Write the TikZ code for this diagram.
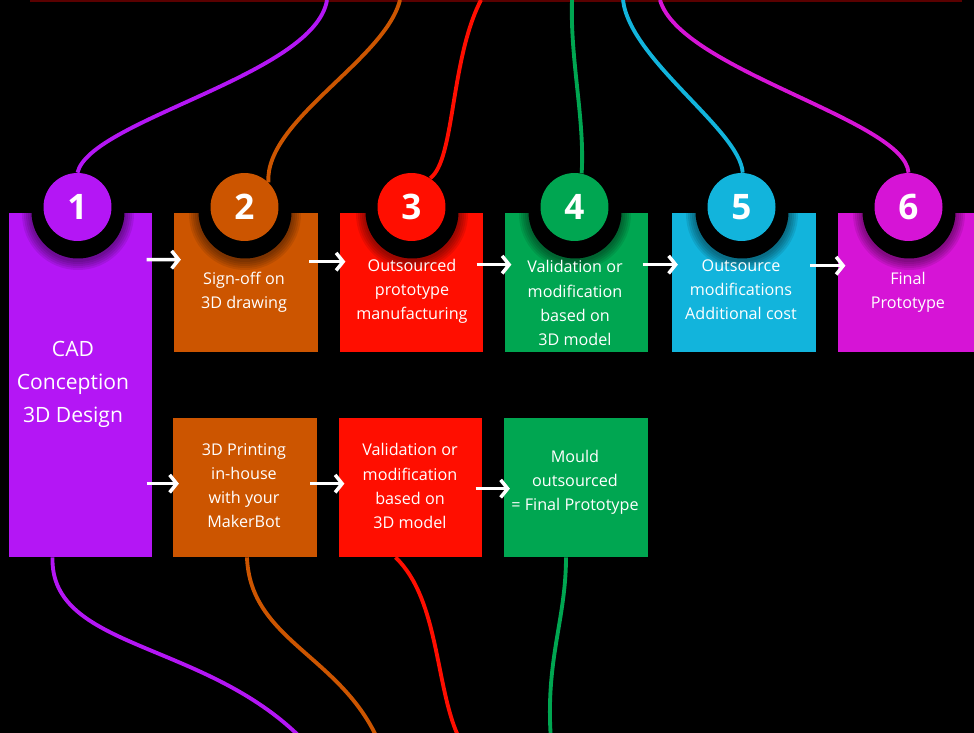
\documentclass[tikz,border=0pt]{standalone}
\usepackage{fontspec}
\setmainfont{Open Sans}
\usetikzlibrary{arrows.meta,calc}
\definecolor{cadpurple}{RGB}{180,22,245}
\definecolor{signorange}{RGB}{204,85,0}
\definecolor{protored}{RGB}{255,14,0}
\definecolor{checkgreen}{RGB}{0,166,81}
\definecolor{modcyan}{RGB}{18,180,220}
\definecolor{finalmagenta}{RGB}{214,20,214}
\definecolor{topline}{RGB}{90,0,0}
\tikzset{
    >={Straight Barb[length=4pt,width=10pt]},
    stepbox/.style={rectangle,inner sep=0pt,minimum width=2.87cm,minimum height=2.78cm},
    ring/.style={circle,fill=black,inner sep=0pt,minimum size=1.86cm},
    numdot/.style={circle,inner sep=0pt,minimum size=1.36cm,text=white,font=\fontsize{20}{20}\selectfont\bfseries},
    steptext/.style={align=center,text=white,font=\fontsize{9.2}{13.7}\selectfont},
    bigtext/.style={align=center,text=white,font=\fontsize{12}{18.8}\selectfont},
    wire/.style={line width=2.2pt},
    flow/.style={->,white,line width=2pt},
}

\begin{document}
\begin{tikzpicture}[x=0.02cm,y=-0.02cm]
	\fill[black] (0,0) rectangle (974,733);
	\clip (0,0) rectangle (974,733);
	\draw[topline,line width=1.5] (30,1) -- (962,1);

	% boxes
	\node[stepbox,fill=cadpurple,minimum height=6.88cm] (b1) at (80.5,385) {};
	\node[stepbox,fill=signorange] (b2) at (246,282.5) {};
	\node[stepbox,fill=protored] (b3) at (411.5,282.5) {};
	\node[stepbox,fill=checkgreen] (b4) at (576.5,282.5) {};
	\node[stepbox,fill=modcyan] (b5) at (744,282.5) {};
	\node[stepbox,fill=finalmagenta] (b6) at (909.5,282.5) {};
	\node[stepbox,fill=signorange] (c2) at (245,487.5) {};
	\node[stepbox,fill=protored] (c3) at (410.5,487.5) {};
	\node[stepbox,fill=checkgreen] (c4) at (576,487.5) {};

	% rings and numbers
	\foreach \x/\n/\c in {78/1/cadpurple,245/2/signorange,412/3/protored,575/4/checkgreen,742/5/modcyan,909/6/finalmagenta}{
		\foreach \s in {48,50,52,54,56}
			\fill[black,opacity=0.09] (\x,214) circle (\s);
		\node[ring] (r\n) at (\x,212) {};
		\node[numdot,fill=\c] (n\n) at (\x-0.5,207) {\n};
	}

	% wires to the top edge
	\coordinate (w1) at (327,0);
	\coordinate (w2) at (400,0);
	\coordinate (w3) at (481,0);
	\coordinate (w4) at (572,0);
	\coordinate (w5) at (623,0);
	\coordinate (w6) at (660,0);
	\draw[wire,cadpurple] (n1.north) .. controls (90,120) and (315,75) .. (w1);
	\draw[wire,signorange] (n2.46) .. controls (265,120) and (385,60) .. (w2);
	\draw[wire,protored] (n3.57) .. controls (455,160) and (450,60) .. (w3);
	\draw[wire,checkgreen] (n4.78) .. controls (585,120) and (570,60) .. (w4);
	\draw[wire,modcyan] (n5.88) .. controls (740,130) and (630,60) .. (w5);
	\draw[wire,finalmagenta] (n6.north) .. controls (905,120) and (680,70) .. (w6);

	% wires to the bottom edge
	\coordinate (v1) at (303,740);
	\coordinate (v2) at (378,740);
	\coordinate (v3) at (460,740);
	\coordinate (v4) at (551,740);
	\draw[wire,cadpurple] ($(b1.south)+(-28,0)$) .. controls (50,650) and (205,640) .. (v1);
	\draw[wire,signorange] ($(c2.south)+(2,0)$) .. controls (250,640) and (340,655) .. (v2);
	\draw[wire,protored] ($(c3.south)+(-15,0)$) .. controls (440,600) and (435,690) .. (v3);
	\draw[wire,checkgreen] ($(c4.south)+(-10,0)$) .. controls (566,620) and (545,660) .. (v4);

	% texts
	\node[bigtext] (t1) at (73,384) {CAD\\Conception\\3D Design};
	\node[steptext] (t2) at (244,292) {Sign-off on\\3D drawing};
	\node[steptext] (t3) at (412,291) {Outsourced\\prototype\\manufacturing};
	\node[steptext] (t4) at (575,303) {Validation or\\modification\\based on\\3D model};
	\node[steptext] (t5) at (741,290) {Outsource\\modifications\\Additional cost};
	\node[steptext] (t6) at (908,292) {Final\\Prototype};
	\node[steptext] (u2) at (244,486) {3D Printing\\in-house\\with your\\MakerBot};
	\node[steptext] (u3) at (410,486) {Validation or\\modification\\based on\\3D model};
	\node[steptext] (u4) at (575,482) {Mould\\outsourced\\= Final Prototype};

	% arrows
	\draw[flow] ($(b1.north east)+(-6,47)$) -- ($(b2.north west)+(7,47)$);
	\draw[flow] ($(b2.north east)+(-9,49)$) -- ($(b3.north west)+(6,49)$);
	\draw[flow] ($(b3.north east)+(-7,52)$) -- ($(b4.north west)+(7,52)$);
	\draw[flow] ($(b4.north east)+(-6,52)$) -- ($(b5.north west)+(6,52)$);
	\draw[flow] ($(b5.north east)+(-6,53)$) -- ($(b6.north west)+(8,53)$);
	\draw[flow] ($(b1.east |- c2.north)+(-6,66)$) -- ($(c2.north west)+(6,66)$);
	\draw[flow] ($(c2.north east)+(-7,66)$) -- ($(c3.north west)+(6,66)$);
	\draw[flow] ($(c3.north east)+(-7,71)$) -- ($(c4.north west)+(6,71)$);
\end{tikzpicture}
\end{document}
